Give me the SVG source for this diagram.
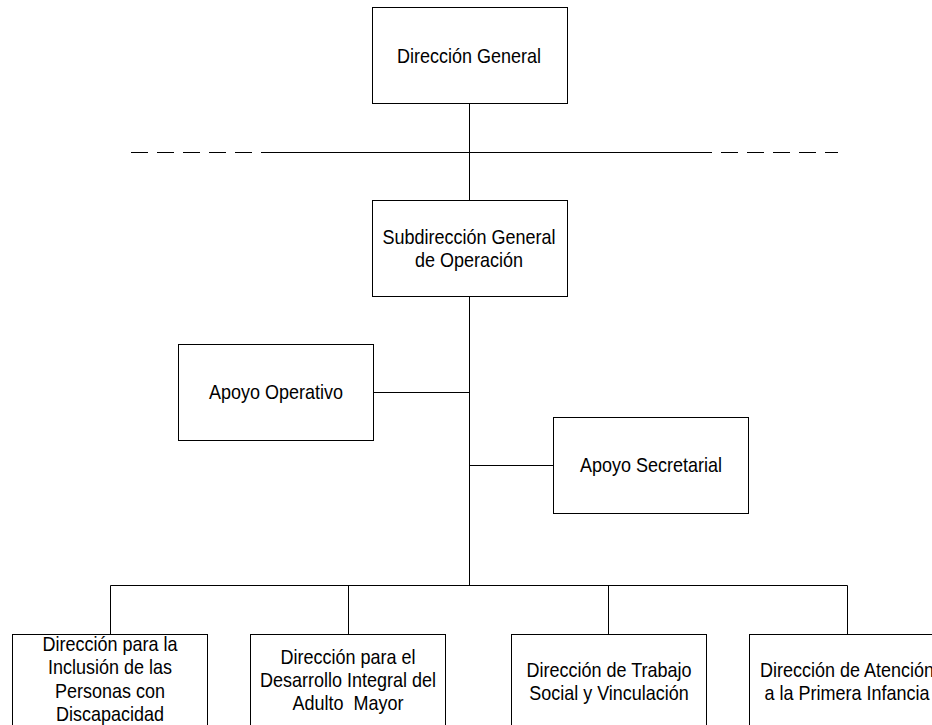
<svg xmlns="http://www.w3.org/2000/svg" width="932" height="725" viewBox="0 0 932 725">
  <style>
    .box { fill: #ffffff; stroke: #000000; stroke-width: 1; }
    .lbl { font-family: "Liberation Sans", Arial, sans-serif; font-size: 18px; fill: #000000; text-anchor: middle; white-space: pre; }
    .ln { stroke: #000000; stroke-width: 1; fill: none; }
    .dash { stroke: #000000; stroke-width: 1; stroke-dasharray: 17 9; fill: none; }
  </style>
  <rect width="932" height="725" fill="#ffffff"/>

  <!-- connectors -->
  <g id="connectors">
    <line class="ln" x1="469.5" y1="103" x2="469.5" y2="200"/>
    <line class="dash" x1="131" y1="152.5" x2="262" y2="152.5"/>
    <line class="ln" x1="262" y1="152.5" x2="712" y2="152.5"/>
    <line class="dash" x1="721" y1="152.5" x2="838" y2="152.5"/>
    <line class="ln" x1="469.5" y1="297" x2="469.5" y2="585"/>
    <line class="ln" x1="374" y1="392.5" x2="469.5" y2="392.5"/>
    <line class="ln" x1="469.5" y1="465.5" x2="553" y2="465.5"/>
    <line class="ln" x1="110.5" y1="585.5" x2="847.5" y2="585.5"/>
    <line class="ln" x1="110.5" y1="585.5" x2="110.5" y2="634"/>
    <line class="ln" x1="348.5" y1="585.5" x2="348.5" y2="634"/>
    <line class="ln" x1="608.5" y1="585.5" x2="608.5" y2="634"/>
    <line class="ln" x1="847.5" y1="585.5" x2="847.5" y2="634"/>
  </g>

  <!-- labels are set slightly taller than wide: translate to the baseline, then stretch -->
  <g id="direccion-general">
    <rect class="box" x="372.5" y="7.5" width="195" height="96"/>
    <text class="lbl" transform="translate(469 63) scale(1 1.15)">Dirección General</text>
  </g>

  <g id="subdireccion-general">
    <rect class="box" x="372.5" y="200.5" width="195" height="96"/>
    <text class="lbl" transform="translate(469 244) scale(1 1.15)">Subdirección General</text>
    <text class="lbl" transform="translate(469 267) scale(1 1.15)">de Operación</text>
  </g>

  <g id="apoyo-operativo">
    <rect class="box" x="178.5" y="344.5" width="195" height="96"/>
    <text class="lbl" transform="translate(276 399) scale(1 1.15)">Apoyo Operativo</text>
  </g>

  <g id="apoyo-secretarial">
    <rect class="box" x="553.5" y="417.5" width="195" height="96"/>
    <text class="lbl" transform="translate(651 472) scale(1 1.15)">Apoyo Secretarial</text>
  </g>

  <g id="dir-discapacidad">
    <rect class="box" x="12.5" y="634.5" width="195" height="100"/>
    <text class="lbl" transform="translate(110 651) scale(1 1.15)">Dirección para la</text>
    <text class="lbl" transform="translate(110 674) scale(1 1.15)">Inclusión de las</text>
    <text class="lbl" transform="translate(110 698) scale(1 1.15)">Personas con</text>
    <text class="lbl" transform="translate(110 721) scale(1 1.15)">Discapacidad</text>
  </g>

  <g id="dir-adulto-mayor">
    <rect class="box" x="250.5" y="634.5" width="195" height="100"/>
    <text class="lbl" transform="translate(348 664) scale(1 1.15)">Dirección para el</text>
    <text class="lbl" transform="translate(348 687) scale(1 1.15)">Desarrollo Integral del</text>
    <text class="lbl" transform="translate(348 710) scale(1 1.15)">Adulto  Mayor</text>
  </g>

  <g id="dir-trabajo-social">
    <rect class="box" x="511.5" y="634.5" width="195" height="100"/>
    <text class="lbl" transform="translate(609 677) scale(1 1.15)">Dirección de Trabajo</text>
    <text class="lbl" transform="translate(609 700) scale(1 1.15)">Social y Vinculación</text>
  </g>

  <g id="dir-primera-infancia">
    <rect class="box" x="749.5" y="634.5" width="195" height="100"/>
    <text class="lbl" transform="translate(847 677) scale(1 1.15)">Dirección de Atención</text>
    <text class="lbl" transform="translate(847 700) scale(1 1.15)">a la Primera Infancia</text>
  </g>
</svg>
